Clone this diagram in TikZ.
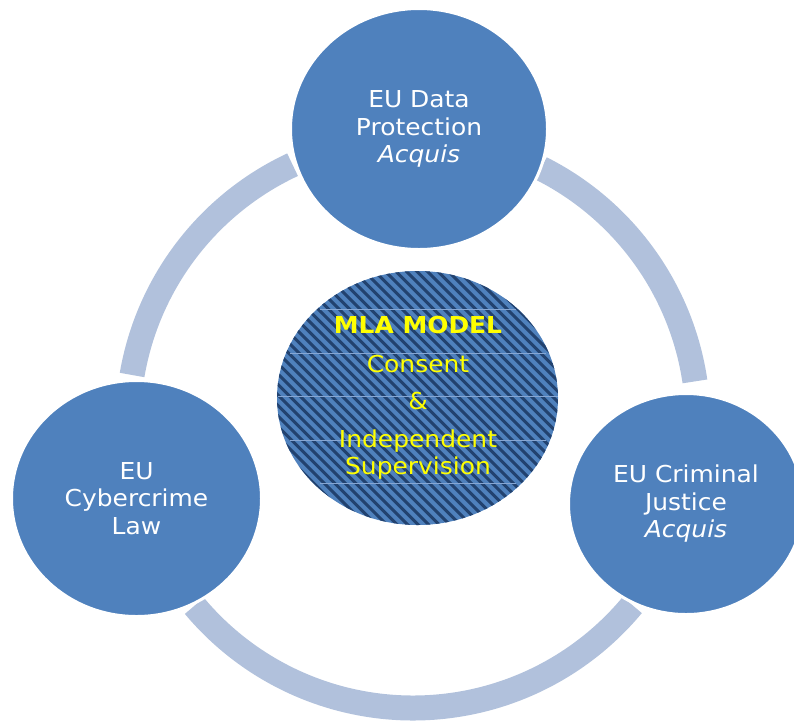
\documentclass[tikz,border=0pt]{standalone}
\usepackage{fontspec}
\newfontfamily\dv{DejaVu Sans}[FakeStretch=1.07]
\usetikzlibrary{shapes.geometric,calc}
\definecolor{ringblue}{HTML}{B1C1DC}
\definecolor{circblue}{HTML}{4F81BD}
\definecolor{hatchblue}{HTML}{22426F}
\definecolor{seamblue}{HTML}{86A6D3}
\definecolor{txtyellow}{HTML}{FFFF00}
\tikzset{
  ringarc/.style={draw=ringblue, line width=25pt, line cap=butt},
  bigcirc/.style={ellipse, fill=circblue, draw=white, line width=3pt, inner sep=0pt,
    text=white, align=center, font=\dv\fontsize{23.3}{27.5}\selectfont},
  hatchline/.style={draw=hatchblue, line width=2.9pt},
  seam/.style={draw=seamblue, line width=0.8pt},
  centertext/.style={text=txtyellow, align=center, inner sep=0pt,
    font=\dv\fontsize{23.3}{27.3}\selectfont}
}
\begin{document}
\begin{tikzpicture}[x=1pt,y=1pt]
\useasboundingbox (0,0) rectangle (794,-721);
\coordinate (rc) at (413,-423);
% ring segments
\draw[ringarc] ($(rc)+(115:285)$) arc[start angle=115, end angle=170.3, radius=285];
\draw[ringarc] ($(rc)+(219.9:285)$) arc[start angle=219.9, end angle=320.3, radius=285];
\draw[ringarc] ($(rc)+(8.4:285)$) arc[start angle=8.4, end angle=63.3, radius=285];
% center hatched ellipse
\node[ellipse, fill=circblue, inner sep=0pt, minimum width=281pt, minimum height=254pt] (mla) at (417.5,-398) {};
\begin{scope}
  \clip (417.5,-398) ellipse [x radius=140.5, y radius=127];
  \foreach \k in {-30,...,30} {
    \draw[hatchline] (417.5+\k*10.5-160,-238) -- (417.5+\k*10.5+160,-558);
  }
  \draw[seam] (320,-309) -- (516,-309);
  \draw[seam] (290,-353) -- (546,-353);
  \draw[seam] (278,-396) -- (558,-396);
  \draw[seam] (290,-440) -- (546,-440);
  \draw[seam] (320,-483) -- (516,-483);
\end{scope}
\node[centertext] (mlatext) at (418,-398) {\textbf{MLA MODEL}\\[11pt]Consent\\[10.3pt]\&\\[10.1pt]Independent\\Supervision};
% outer circles
\node[bigcirc, minimum width=257pt, minimum height=241pt] (dp) at (419,-129) {EU Data\\Protection\\\textit{Acquis}};
\node[bigcirc, minimum width=250pt, minimum height=236pt] (cc) at (136.5,-498.5) {EU\\Cybercrime\\Law};
\node[bigcirc, minimum width=235pt, minimum height=221pt] (cj) at (686,-504) {EU Criminal\\Justice\\\textit{Acquis}};
\end{tikzpicture}
\end{document}
